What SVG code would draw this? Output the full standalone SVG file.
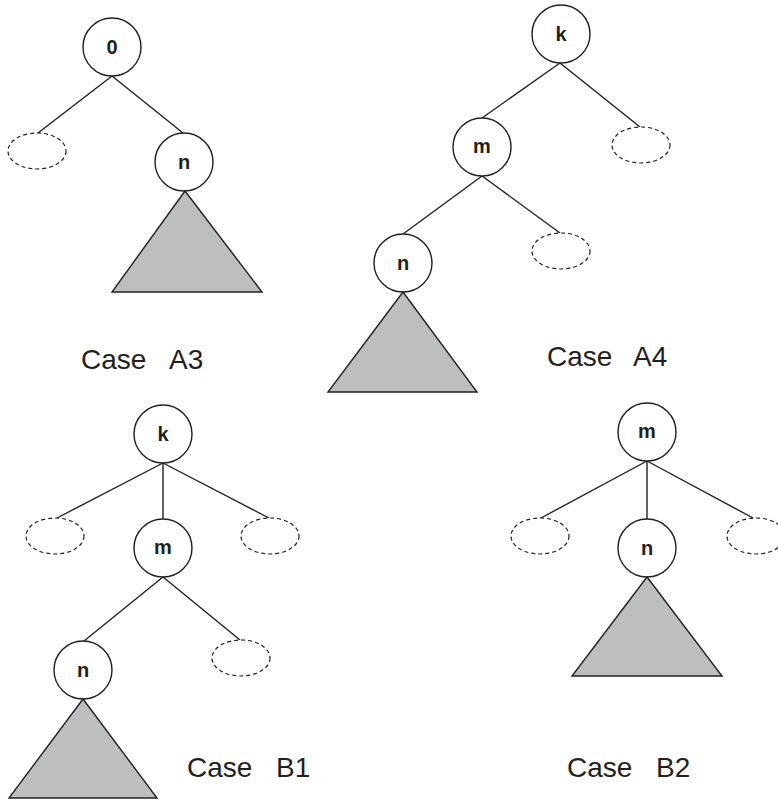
<svg xmlns="http://www.w3.org/2000/svg" width="778" height="803" viewBox="0 0 778 803">
<style>
.node{fill:#fff;stroke:#231f20;stroke-width:1.4}
.empty{fill:#fff;stroke:#231f20;stroke-width:1.2;stroke-dasharray:4 3}
.tri{fill:#bcbec0;stroke:#231f20;stroke-width:1.4;stroke-linejoin:miter}
.lbl{font-family:"Liberation Sans",Arial,sans-serif;font-weight:bold;font-size:20px;fill:#231f20;text-anchor:middle}
.cap{font-family:"Liberation Sans",Arial,sans-serif;font-size:28px;fill:#231f20}
.edges line{stroke:#231f20;stroke-width:1.4}
</style>
<rect width="778" height="803" fill="#fff"/>
<g id="connectors" class="edges">
<line x1="112" y1="76" x2="38" y2="133"/>
<line x1="112" y1="76" x2="183" y2="133"/>
<line x1="560" y1="63" x2="482" y2="118"/>
<line x1="560" y1="63" x2="640" y2="127"/>
<line x1="482" y1="176" x2="403" y2="234"/>
<line x1="482" y1="176" x2="560" y2="233"/>
<line x1="163" y1="463" x2="57" y2="518"/>
<line x1="163" y1="463" x2="163" y2="519"/>
<line x1="163" y1="463" x2="269" y2="518"/>
<line x1="163" y1="577" x2="84" y2="641"/>
<line x1="163" y1="577" x2="240" y2="640"/>
<line x1="647" y1="461" x2="541" y2="518"/>
<line x1="647" y1="461" x2="647" y2="519"/>
<line x1="647" y1="461" x2="753" y2="518"/>
</g>
<g id="caseA3">
<g id="a3-root"><circle class="node" cx="112" cy="47" r="29"/><text class="lbl" x="112" y="54">0</text></g>
<g id="a3-empty"><ellipse class="empty" cx="37" cy="151" rx="29" ry="18"/></g>
<g id="a3-n"><circle class="node" cx="184" cy="162" r="29"/><text class="lbl" x="184" y="169">n</text></g>
<g id="a3-subtree"><polygon class="tri" points="185,191 112,292 262,292"/></g>
<text id="a3-caption" class="cap" x="81" y="369">Case<tspan x="169">A3</tspan></text>
</g>
<g id="caseA4">
<g id="a4-k"><circle class="node" cx="561" cy="34" r="29"/><text class="lbl" x="561" y="41">k</text></g>
<g id="a4-m"><circle class="node" cx="482" cy="147" r="29"/><text class="lbl" x="482" y="153">m</text></g>
<g id="a4-empty1"><ellipse class="empty" cx="641" cy="145" rx="29" ry="18"/></g>
<g id="a4-n"><circle class="node" cx="403" cy="263" r="29"/><text class="lbl" x="403" y="270">n</text></g>
<g id="a4-empty2"><ellipse class="empty" cx="561" cy="251" rx="29" ry="18"/></g>
<g id="a4-subtree"><polygon class="tri" points="403,292 328,392 477,392"/></g>
<text id="a4-caption" class="cap" x="547" y="366">Case<tspan x="633">A4</tspan></text>
</g>
<g id="caseB1">
<g id="b1-k"><circle class="node" cx="163" cy="434" r="29"/><text class="lbl" x="163" y="441">k</text></g>
<g id="b1-emptyL"><ellipse class="empty" cx="55" cy="536" rx="29" ry="18"/></g>
<g id="b1-emptyR"><ellipse class="empty" cx="270" cy="536" rx="29" ry="18"/></g>
<g id="b1-m"><circle class="node" cx="163" cy="548" r="29"/><text class="lbl" x="163" y="554">m</text></g>
<g id="b1-n"><circle class="node" cx="83" cy="670" r="29"/><text class="lbl" x="83" y="677">n</text></g>
<g id="b1-empty2"><ellipse class="empty" cx="241" cy="658" rx="29" ry="18"/></g>
<g id="b1-subtree"><polygon class="tri" points="83,699 9,798 157,798"/></g>
<text id="b1-caption" class="cap" x="187" y="777">Case<tspan x="276">B1</tspan></text>
</g>
<g id="caseB2">
<g id="b2-m"><circle class="node" cx="647" cy="432" r="29"/><text class="lbl" x="647" y="438">m</text></g>
<g id="b2-emptyL"><ellipse class="empty" cx="540" cy="536" rx="29" ry="18"/></g>
<g id="b2-emptyR"><ellipse class="empty" cx="756" cy="536" rx="29" ry="18"/></g>
<g id="b2-n"><circle class="node" cx="647" cy="548" r="29"/><text class="lbl" x="647" y="555">n</text></g>
<g id="b2-subtree"><polygon class="tri" points="647,577 572,676 722,676"/></g>
<text id="b2-caption" class="cap" x="567" y="777">Case<tspan x="656">B2</tspan></text>
</g>
</svg>
